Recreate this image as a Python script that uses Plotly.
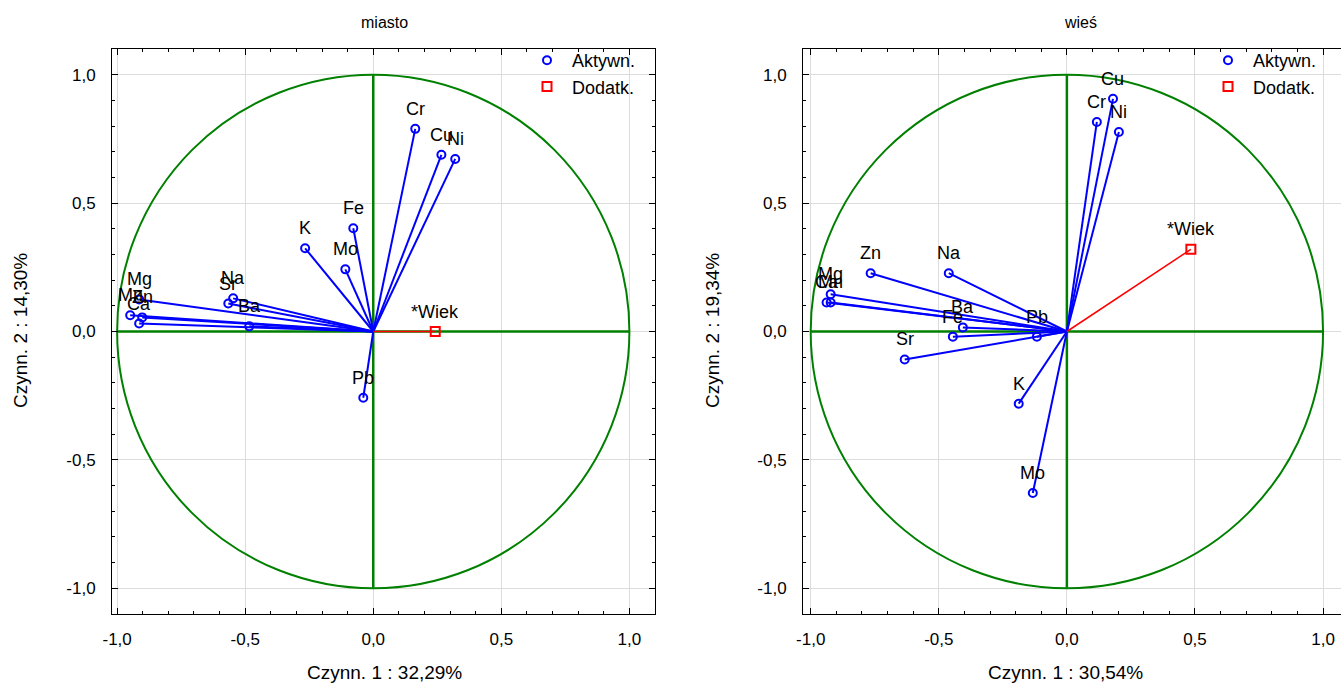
import plotly.graph_objects as go

W, H = 1341, 684

# ---- factor loadings: "miasto" ----
city_labels = ["Cr", "Cu", "Ni", "Fe", "K", "Mo", "Na", "Sr", "Ba", "Mg", "Mn", "Zn", "Ca", "Pb"]
city_f1 = [0.164, 0.266, 0.320, -0.078, -0.266, -0.109, -0.547, -0.566, -0.484, -0.914, -0.949, -0.902, -0.914, -0.039]
city_f2 = [0.789, 0.688, 0.672, 0.402, 0.324, 0.242, 0.129, 0.109, 0.020, 0.125, 0.063, 0.055, 0.031, -0.258]
city_supp_labels = ["*Wiek"]
city_supp_f1 = [0.242]
city_supp_f2 = [0.0]

# ---- factor loadings: "wieś" ----
village_labels = ["Cu", "Cr", "Ni", "Zn", "Na", "Mg", "Ca", "Mn", "Ba", "Fe", "Pb", "Sr", "K", "Mo"]
village_f1 = [0.180, 0.117, 0.203, -0.766, -0.461, -0.922, -0.938, -0.922, -0.406, -0.445, -0.117, -0.633, -0.188, -0.133]
village_f2 = [0.906, 0.816, 0.777, 0.227, 0.227, 0.145, 0.113, 0.113, 0.016, -0.020, -0.020, -0.109, -0.281, -0.629]
village_supp_labels = ["*Wiek"]
village_supp_f1 = [0.484]
village_supp_f2 = [0.320]

panel_titles = ["miasto", "wieś"]
x_titles = ["Czynn. 1 : 32,29%", "Czynn. 1 : 30,54%"]
y_titles = ["Czynn. 2 : 14,30%", "Czynn. 2 : 19,34%"]
legend_names = ["Aktywn.", "Dodatk."]

tick_vals = [-1.0, -0.5, 0.0, 0.5, 1.0]
tick_text = ["-1,0", "-0,5", "0,0", "0,5", "1,0"]

BLUE = "#0000ff"
RED = "#ff0000"
GREEN = "#008000"
FONT = "Liberation Sans, Arial, sans-serif"


def vectors(f1, f2):
    xs, ys = [], []
    for a, b in zip(f1, f2):
        xs += [0, a, None]
        ys += [0, b, None]
    return xs, ys


fig = go.Figure()

panels = [
    dict(labels=city_labels, f1=city_f1, f2=city_f2,
         slabels=city_supp_labels, sf1=city_supp_f1, sf2=city_supp_f2,
         xa="x", ya="y", legend="legend"),
    dict(labels=village_labels, f1=village_f1, f2=village_f2,
         slabels=village_supp_labels, sf1=village_supp_f1, sf2=village_supp_f2,
         xa="x2", ya="y2", legend="legend2"),
]

for p in panels:
    vx, vy = vectors(p["f1"], p["f2"])
    sx, sy = vectors(p["sf1"], p["sf2"])
    fig.add_trace(go.Scatter(x=vx, y=vy, mode="lines", line=dict(color=BLUE, width=2),
                             xaxis=p["xa"], yaxis=p["ya"], showlegend=False, hoverinfo="skip"))
    fig.add_trace(go.Scatter(x=sx, y=sy, mode="lines", line=dict(color=RED, width=1.5),
                             xaxis=p["xa"], yaxis=p["ya"], showlegend=False, hoverinfo="skip"))
    fig.add_trace(go.Scatter(x=p["f1"], y=p["f2"], mode="markers", name=legend_names[0],
                             marker=dict(symbol="circle-open", size=8, color=BLUE, line=dict(width=2)),
                             xaxis=p["xa"], yaxis=p["ya"], legend=p["legend"], text=p["labels"]))
    fig.add_trace(go.Scatter(x=p["sf1"], y=p["sf2"], mode="markers", name=legend_names[1],
                             marker=dict(symbol="square-open", size=9, color=RED, line=dict(width=2)),
                             xaxis=p["xa"], yaxis=p["ya"], legend=p["legend"], text=p["slabels"]))
    # labels above each vector end
    for lab, a, b in zip(p["labels"] + p["slabels"], p["f1"] + p["sf1"], p["f2"] + p["sf2"]):
        fig.add_annotation(x=a, y=b, xref=p["xa"], yref=p["ya"], text=lab, showarrow=False,
                           yshift=20, font=dict(family=FONT, size=18, color="black"))
    # unit circle and the green cross
    fig.add_shape(type="circle", xref=p["xa"], yref=p["ya"], x0=-1, y0=-1, x1=1, y1=1,
                  line=dict(color=GREEN, width=2), layer="between")
    fig.add_shape(type="line", xref=p["xa"], yref=p["ya"], x0=-1, y0=0, x1=1, y1=0,
                  line=dict(color=GREEN, width=2.5), layer="between")
    fig.add_shape(type="line", xref=p["xa"], yref=p["ya"], x0=0, y0=-1, x1=0, y1=1,
                  line=dict(color=GREEN, width=2.5), layer="between")

y_dom = [1 - 614 / H, 1 - 49 / H]

axis_common = dict(
    tickvals=tick_vals, ticktext=tick_text, showgrid=True, gridcolor="#dcdcdc", gridwidth=1,
    zeroline=False, showline=True, linecolor="black", linewidth=1, automargin=False,
    ticks="inside", ticklen=6, tickcolor="black",
    minor=dict(ticks="inside", ticklen=3, dtick=0.1, tickcolor="black", showgrid=False),
    tickfont=dict(family=FONT, size=17, color="black"),
)

legend_common = dict(xanchor="left", yanchor="top", itemwidth=40, bgcolor="rgba(0,0,0,0)",
                     font=dict(family=FONT, size=18, color="black"))

fig.update_layout(
    width=W, height=H, margin=dict(l=0, r=0, t=0, b=0, autoexpand=False),
    paper_bgcolor="white", plot_bgcolor="white",
    font=dict(family=FONT, color="black"),
    xaxis=dict(domain=[112 / W, 655 / W], range=[-1.02, 1.10], mirror="allticks",
               ticklabelstandoff=10, **axis_common),
    yaxis=dict(domain=y_dom, range=[-1.10, 1.10], mirror="allticks",
               ticklabelstandoff=12, **axis_common),
    xaxis2=dict(domain=[803 / W, 1.0], range=[-1.03, 1.07], anchor="y2", mirror="allticks",
                ticklabelstandoff=10, **axis_common),
    yaxis2=dict(domain=y_dom, range=[-1.10, 1.10], anchor="x2", mirror=False,
                ticklabelstandoff=12, **axis_common),
    legend=dict(x=522 / W, y=1 - 42 / H, **legend_common),
    legend2=dict(x=1203 / W, y=1 - 42 / H, **legend_common),
)

# panel titles and axis titles
title_x = [384 / W, 1080 / W]
xt_x = [384 / W, 1065 / W]
yt_x = [20 / W, 712 / W]
for i in range(2):
    fig.add_annotation(x=title_x[i], y=1 - 22 / H, xref="paper", yref="paper", text=panel_titles[i],
                       xanchor="center", yanchor="middle", showarrow=False,
                       font=dict(family=FONT, size=16, color="black"))
    fig.add_annotation(x=xt_x[i], y=1 - 672 / H, xref="paper", yref="paper", text=x_titles[i],
                       xanchor="center", yanchor="middle", showarrow=False,
                       font=dict(family=FONT, size=19, color="black"))
    fig.add_annotation(x=yt_x[i], y=1 - 331 / H, xref="paper", yref="paper", text=y_titles[i],
                       xanchor="center", yanchor="middle", showarrow=False, textangle=-90,
                       font=dict(family=FONT, size=19, color="black"))

fig.write_html("out.html")
